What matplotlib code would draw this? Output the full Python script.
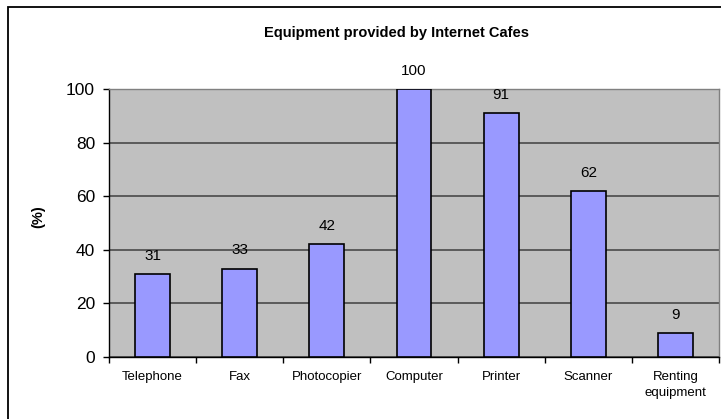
import matplotlib
matplotlib.use("Agg")
import matplotlib.pyplot as plt
from matplotlib.patches import Rectangle

categories = ["Telephone", "Fax", "Photocopier", "Computer", "Printer", "Scanner", "Renting\nequipment"]
values = [31, 33, 42, 100, 91, 62, 9]
yticks = [0, 20, 40, 60, 80, 100]

plt.rcParams['font.family'] = ['Liberation Sans', 'DejaVu Sans']

W, H = 721, 419
fig = plt.figure(figsize=(W / 100, H / 100), dpi=100)
fig.patch.set_facecolor("white")

# outer chart frame (runs off the right and bottom edge)
fig.patches.append(Rectangle((8 / W, -0.05), 1.1, 1.05 - 7 / H,
                             transform=fig.transFigure, fill=False,
                             edgecolor="black", linewidth=1.3, zorder=0))

left, right, top, bottom = 109, 719, 89, 357
ax = fig.add_axes([left / W, 1 - bottom / H, (right - left) / W, (bottom - top) / H])
ax.set_facecolor("#C0C0C0")

x = range(len(categories))
ax.bar(x, values, width=0.4, color="#9999FF", edgecolor="black", linewidth=1.2, zorder=3)

for xi, v in zip(x, values):
    ax.annotate(str(v), (xi, v), xytext=(0, 8), textcoords="offset points",
                ha="center", va="bottom", fontsize=11, zorder=4)

ax.set_xlim(-0.5, len(categories) - 0.5)
ax.set_ylim(0, 100)
ax.set_yticks(yticks)
ax.set_yticklabels([str(t) for t in yticks], fontsize=12.5)
ax.yaxis.grid(True, color="#404040", linewidth=1.1, zorder=1)
ax.set_axisbelow(True)

ax.set_xticks([i + 0.5 for i in range(-1, len(categories))], minor=False)
ax.set_xticklabels([])
ax.set_xticks(list(x), minor=True)
ax.set_xticklabels(categories, minor=True, fontsize=9.5, linespacing=1.45)
ax.tick_params(axis="x", which="minor", length=0, pad=10)
ax.tick_params(axis="x", which="major", length=4, width=1, direction="out")
ax.tick_params(axis="y", length=4, width=1, direction="out", pad=6)

for side in ("top", "right"):
    ax.spines[side].set_color("#808080")
    ax.spines[side].set_linewidth(1.0)
for side in ("left", "bottom"):
    ax.spines[side].set_color("black")
    ax.spines[side].set_linewidth(1.0)

fig.text(38 / W, 1 - 217 / H, "(%)", rotation=90, ha="center", va="center",
         fontsize=10.5, fontweight="bold")
fig.text(397 / W, 1 - 33 / H, "Equipment provided by Internet Cafes",
         ha="center", va="center", fontsize=10.5, fontweight="bold")

fig.savefig("out.png", dpi=100)
